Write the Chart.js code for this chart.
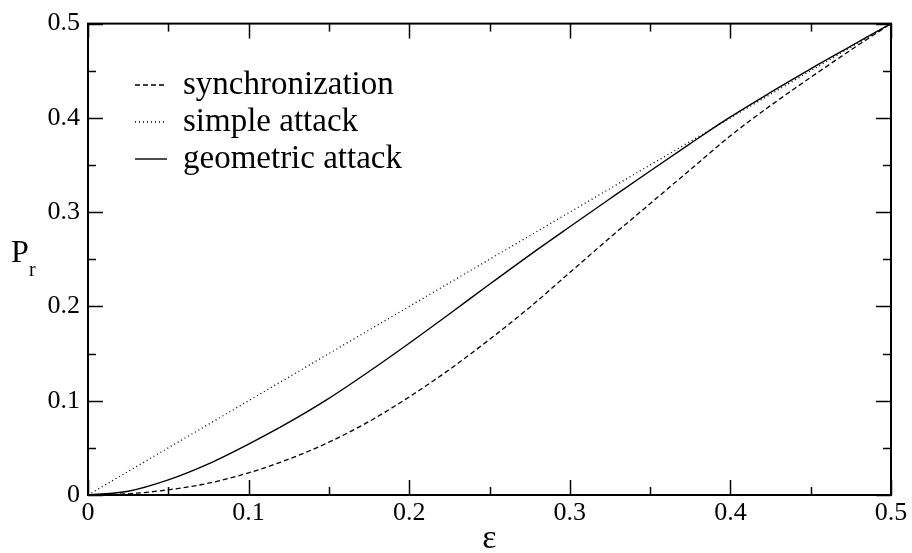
<!DOCTYPE html>
<html>
<head>
<meta charset="utf-8">
<script src="https://cdn.jsdelivr.net/npm/chart.js@4.4.1/dist/chart.umd.min.js"></script>
<style>
  html, body { margin: 0; padding: 0; background: #fff; }
  #wrap { width: 912px; height: 553px; }
</style>
</head>
<body>
<div id="wrap"><canvas id="c" width="912" height="553"></canvas></div>
<script>
// ---- data ----
const epsValues = [0, 0.025, 0.05, 0.075, 0.1, 0.125, 0.15, 0.175, 0.2, 0.225, 0.25,
                   0.275, 0.3, 0.325, 0.35, 0.375, 0.4, 0.425, 0.45, 0.475, 0.5];
const syncValues = [0, 0.0013, 0.0055, 0.0125, 0.0235, 0.038, 0.056, 0.078, 0.104, 0.133, 0.165,
                    0.199, 0.236, 0.273, 0.309, 0.345, 0.381, 0.413, 0.443, 0.472, 0.5];
const simpleValues = [0, 0.025, 0.05, 0.075, 0.1, 0.125, 0.15, 0.175, 0.2, 0.225, 0.25,
                      0.275, 0.3, 0.325, 0.35, 0.375, 0.4, 0.425, 0.45, 0.475, 0.5];
const geometricValues = [0, 0.004, 0.016, 0.033, 0.054, 0.077, 0.1025, 0.131, 0.161, 0.192, 0.2235,
                         0.2545, 0.2845, 0.3142, 0.3437, 0.3727, 0.401, 0.427, 0.452, 0.476, 0.5];
const seriesNames = ['synchronization', 'simple attack', 'geometric attack'];
const xTickLabels = ['0', '0.1', '0.2', '0.3', '0.4', '0.5'];
const yTickLabels = ['0', '0.1', '0.2', '0.3', '0.4', '0.5'];
const xMajorTicks = [0, 0.1, 0.2, 0.3, 0.4, 0.5];
const xMinorTicks = [0.05, 0.15, 0.25, 0.35, 0.45];
const yMajorTicks = [0, 0.1, 0.2, 0.3, 0.4, 0.5];
const yMinorTicks = [0.05, 0.15, 0.25, 0.35, 0.45];

const SERIF = '"Liberation Serif", "DejaVu Serif", serif';
const toPts = (ys) => epsValues.map((x, i) => ({ x: x, y: ys[i] }));

const dashes = [[5, 3], [1, 3], []];
const widths = [1.3, 1.3, 1.4];

const framePlugin = {
  id: 'frame',
  afterDraw(chart) {
    const ctx = chart.ctx;
    const a = chart.chartArea;
    const xs = chart.scales.x, ys = chart.scales.y;
    ctx.save();
    ctx.strokeStyle = '#000';
    ctx.setLineDash([]);
    // frame
    ctx.lineWidth = 2;
    ctx.strokeRect(a.left, a.top, a.right - a.left, a.bottom - a.top);
    // inward ticks on all four sides
    ctx.lineWidth = 1.5;
    const drawX = (vals, len) => vals.forEach(v => {
      const px = Math.round(xs.getPixelForValue(v)) + 0.5;
      ctx.beginPath(); ctx.moveTo(px, a.bottom); ctx.lineTo(px, a.bottom - len); ctx.stroke();
      ctx.beginPath(); ctx.moveTo(px, a.top); ctx.lineTo(px, a.top + len); ctx.stroke();
    });
    const drawY = (vals, len) => vals.forEach(v => {
      const py = Math.round(ys.getPixelForValue(v)) + 0.5;
      ctx.beginPath(); ctx.moveTo(a.left, py); ctx.lineTo(a.left + len, py); ctx.stroke();
      ctx.beginPath(); ctx.moveTo(a.right, py); ctx.lineTo(a.right - len, py); ctx.stroke();
    });
    drawX(xMajorTicks, 15); drawX(xMinorTicks, 8);
    drawY(yMajorTicks, 15); drawY(yMinorTicks, 8);

    // legend
    const rowY = [85, 122, 159];
    chart.data.datasets.forEach((ds, i) => {
      ctx.lineWidth = widths[i];
      ctx.setLineDash(dashes[i]);
      ctx.beginPath(); ctx.moveTo(135, rowY[i]); ctx.lineTo(167, rowY[i]); ctx.stroke();
      ctx.setLineDash([]);
      ctx.fillStyle = '#000';
      ctx.font = '33px ' + SERIF;
      ctx.textAlign = 'left';
      ctx.textBaseline = 'middle';
      ctx.fillText(ds.label, 183, rowY[i]);
    });

    // axis titles
    ctx.fillStyle = '#000';
    ctx.textAlign = 'left';
    ctx.textBaseline = 'alphabetic';
    ctx.font = '32px ' + SERIF;
    ctx.fillText('P', 11, 262);
    ctx.font = '20px ' + SERIF;
    ctx.fillText('r', 29, 276);
    ctx.font = '34px ' + SERIF;
    ctx.textAlign = 'center';
    ctx.fillText('ε', (a.left + a.right) / 2, 548);
    ctx.restore();
  }
};

new Chart(document.getElementById('c'), {
  type: 'line',
  data: {
    datasets: [
      { label: seriesNames[0], data: toPts(syncValues) },
      { label: seriesNames[1], data: toPts(simpleValues) },
      { label: seriesNames[2], data: toPts(geometricValues) }
    ].map((d, i) => Object.assign(d, {
      borderColor: '#000',
      borderWidth: widths[i],
      borderDash: dashes[i],
      pointRadius: 0,
      fill: false,
      cubicInterpolationMode: 'monotone'
    }))
  },
  options: {
    responsive: false,
    animation: false,
    devicePixelRatio: 1,
    layout: { padding: { top: 20, right: 21, left: 0, bottom: 0 } },
    plugins: { legend: { display: false }, tooltip: { enabled: false } },
    scales: {
      x: {
        type: 'linear', min: 0, max: 0.5,
        grid: { display: false, drawTicks: false },
        border: { display: false },
        afterBuildTicks(s) { s.ticks = xMajorTicks.map(v => ({ value: v })); },
        ticks: {
          autoSkip: false, maxRotation: 0, padding: 3, color: '#000',
          font: { family: SERIF, size: 26 },
          callback: (v, i) => xTickLabels[i]
        },
        afterFit(s) { s.height = 58; }
      },
      y: {
        type: 'linear', min: 0, max: 0.5,
        grid: { display: false, drawTicks: false },
        border: { display: false },
        afterBuildTicks(s) { s.ticks = yMajorTicks.map(v => ({ value: v })); },
        ticks: {
          autoSkip: false, padding: 8, color: '#000',
          font: { family: SERIF, size: 26 },
          callback: (v, i) => yTickLabels[i]
        },
        afterFit(s) { s.width = 88; }
      }
    }
  },
  plugins: [framePlugin]
});
</script>
</body>
</html>
